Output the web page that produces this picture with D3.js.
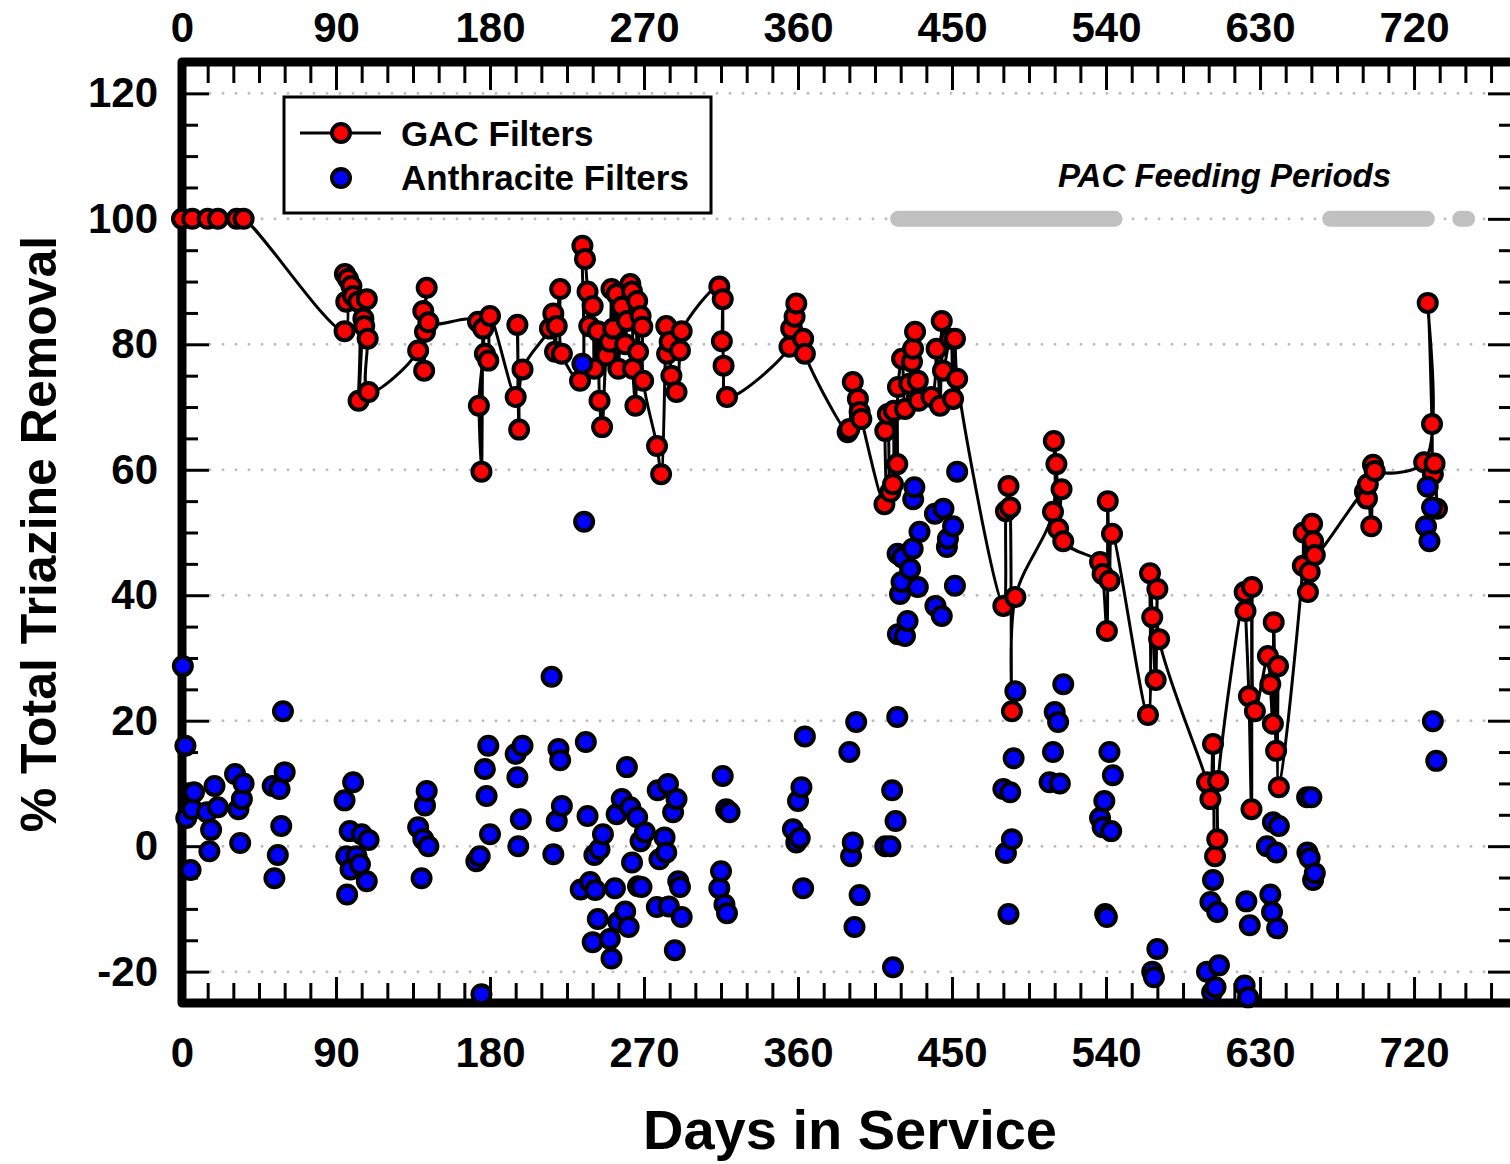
<!DOCTYPE html>
<html>
<head>
<meta charset="utf-8">
<script src="https://cdn.jsdelivr.net/npm/d3@7"></script>
<style>
  body { margin: 0; background: #fff; }
  svg { display: block; font-family: "Liberation Sans", Arial, sans-serif; font-weight: bold; }
</style>
</head>
<body>
<div id="chart"></div>
<script>
// GAC-Filter (mit Linie)
const gacDays = [0, 6, 15, 21, 32, 36,
  95, 95.2, 96, 97, 99, 100, 103, 103.2, 106, 106.5, 108, 108.5, 109,
  138, 141, 141.5, 142, 143, 144,
  173, 173.5, 175, 176, 177, 179, 180,
  195, 196, 197, 199,
  215, 217, 218, 219, 221, 222,
  232.6, 234, 235.5, 237, 238, 240, 241, 243, 244, 245.5, 248, 250, 251, 252, 254, 255, 257, 259, 260,
  262, 263, 263.5, 265, 266, 266.5, 268, 269, 269.5, 277.6, 280, 283, 283.5, 285, 286, 289, 291, 292,
  314, 315.5, 316, 316.5, 318.5,
  355, 356, 358, 359, 363, 364,
  389, 390, 392, 395, 396, 397,
  410.5, 411, 412.5, 414, 415.5, 416, 418, 418.4, 420.8, 422.5, 425, 426.6, 427.2, 428.4, 430, 430.5,
  438, 441, 443, 444, 444.7, 449, 450.6, 451.7, 453,
  480, 481.5, 483, 484, 485, 487,
  509, 509.5, 511, 512, 514, 515,
  536.5, 538, 540.5, 541, 542, 543.5,
  564.5, 565.7, 567, 569, 570, 571,
  599, 601, 602.5, 603.7, 605, 605.5,
  621, 621.5, 623.5, 625, 625.3, 627,
  634.6, 636, 637.5, 638, 639.4, 640.5, 641,
  655, 655.5, 658, 659, 660.4, 661, 662,
  691.3, 692.5, 693, 695, 696, 697,
  725.9, 728, 730.5, 731, 732, 733.4];
const gacRemoval = [100, 100, 100, 100, 100, 100,
  82.1, 91.2, 86.8, 90.4, 89.3, 87.7, 86.8, 71, 84.1, 82.9, 87.2, 80.9, 72.4,
  79, 85.3, 75.8, 82, 89, 83.5,
  83.6, 70.2, 59.7, 82.5, 78.5, 77.4, 84.5,
  71.6, 83.1, 66.4, 76,
  82.5, 84.9, 78.8, 82.9, 88.8, 78.5,
  74.2, 95.7, 93.6, 88.4, 82.9, 86.1, 76.1, 82.1, 71, 66.8, 78.2, 80.4, 88.8, 82.5, 88, 76.1, 86, 80, 83.7,
  89.6, 88.4, 76.1, 70.2, 86.9, 78.8, 84.5, 82.8, 74.2, 63.8, 59.3, 82.9, 78.5, 80.4, 75, 72.4, 79, 82.1,
  89.2, 80.5, 87.2, 76.6, 71.6,
  79.6, 82.5, 84.4, 86.5, 80.9, 78.5,
  66, 66.5, 74, 71.3, 69.2, 68.1,
  54.5, 66.2, 68.9, 56.5, 57.7, 69.4, 60.9, 73.2, 77.7, 69.7, 73.7, 77.2, 79.3, 82, 74.2, 71,
  71.6, 79.3, 70.2, 83.7, 75.8, 80.9, 71.3, 80.9, 74.5,
  38.3, 53.4, 57.4, 54, 21.5, 39.7,
  53.3, 64.6, 60.9, 50.6, 56.9, 48.6,
  45.3, 43.4, 34.3, 55, 42.3, 49.8,
  20.9, 43.5, 36.5, 26.5, 41, 33,
  10.2, 7.5, 16.3, -1.6, 1.1, 10.4,
  40.5, 37.5, 23.9, 5.9, 41.3, 21.5,
  30.3, 25.8, 19.5, 35.7, 15.2, 28.7, 9.4,
  44.7, 50, 40.5, 43.7, 51.4, 48.6, 46.4,
  56.5, 55.4, 57.7, 51, 60.8, 59.8,
  61.2, 86.6, 67.3, 59.3, 61, 53.8];

// Anthrazit-Filter (nur Punkte)
const anthDays = [0.5, 2, 2.5, 5, 6, 7, 14.6, 16, 17, 19, 21, 31, 33, 34, 35, 36,
  53, 54, 56, 57, 58, 59, 60,
  95, 96, 96.5, 98, 98.5, 100, 102, 104, 105, 108, 109,
  138, 140, 141, 142, 143, 144,
  172, 174, 175, 177, 178, 179, 180,
  195, 196, 196.5, 198, 199,
  216, 217, 219, 220, 221, 222,
  233, 234, 235, 236, 237, 238.5, 240, 241, 241.5, 243, 244, 246, 250, 251, 253, 254, 255, 257, 259, 260,
  261, 262, 263, 266, 266.5, 268, 268.5, 270.5, 277.5, 278, 279, 282, 283, 284, 284.5, 287, 288, 289, 290, 291, 292,
  314, 315, 316, 317, 318, 318.5, 320,
  357, 359, 360, 361, 362, 363, 364,
  390, 391, 392, 393, 394, 396,
  411, 414, 415, 415.5, 417, 418, 418.2, 418.4, 419.6, 420.5, 421, 422.5, 424, 425.5, 427, 427.3, 428, 430, 431,
  440, 440.3, 444, 445, 447, 447.6, 450.6, 451.7, 453,
  480, 481.5, 483, 484, 485, 486, 487,
  507, 509, 510, 512, 513, 515,
  536.5, 538, 539, 539.5, 540.5, 542, 543, 544,
  567, 568, 570,
  599, 601, 602, 602.5, 604, 605, 606,
  621, 622, 623, 624,
  634, 636, 637, 637.5, 639.5, 640, 641,
  657.5, 657.7, 659, 660, 661, 662,
  727, 728, 729, 730.5, 731, 733];
const anthRemoval = [28.7, 16, 4.5, -3.8, 5.9, 8.6, 5.4, -0.8, 2.6, 9.6, 6.2, 11.5, 5.9, 0.5, 7.5, 10,
  9.6, -5.1, -1.4, 9.1, 3.2, 21.5, 11.8,
  7.3, -1.6, -7.7, 2.4, -3.7, 10.2, -1.6, -2.9, 1.9, -5.6, 1,
  3, -5.1, 1.1, 6.5, 8.8, 0,
  -2.4, -1.6, -23.6, 12.3, 8, 16, 1.9,
  14.7, 11, 0, 4.3, 16,
  27, -1.3, 4, 15.5, 13.7, 6.4,
  -6.9, 76.9, 51.7, 16.6, 4.8, -5.7, -15.3, -1.4, -7, -11.6, -0.5, 1.9, -14.8, -17.9, -6.7, 5.1, -12.1, 7.5, -10.4, 12.6,
  -12.9, 6.2, -2.6, 4.6, -6.4, 0.8, -6.5, 2.2, -9.7, 8.9, -2.1, 1.4, -1, 9.9, -9.6, 5.4, -16.6, 7.5, -5.6, -6.5, -11.3,
  -6.7, -4, 11.2, -9.3, 5.9, -10.7, 5.4,
  2.7, 0.6, 7.2, 1.3, 9.4, -6.7, 17.5,
  15, -1.6, 0.6, -12.9, 19.8, -7.8,
  0, 0, 8.9, -19.3, 4, 20.6, 46.6, 33.8, 40.2, 42.1, 46, 33.5, 35.9, 44.2, 47.4, 55.3, 57.2, 41.3, 50.1,
  53, 38.3, 36.7, 53.8, 47.7, 49, 51, 41.5, 59.7,
  9.1, -1.1, -10.8, 8.6, 1.1, 14, 24.7,
  10.2, 15, 21.4, 19.8, 10, 25.8,
  4.5, 3, 7.2, -10.8, -11.3, 15, 2.4, 11.3,
  -20, -20.9, -16.4,
  -20, -8.9, -23.3, -5.4, -22.5, -10.5, -19,
  -22.2, -8.8, -24.1, -12.6,
  0, -7.7, -10.5, 3.8, -1, -13.1, 3.2,
  7.8, -1, -1.9, 7.8, -5.4, -4.3,
  51, 57.3, 48.6, 54, 19.9, 13.6];

// PAC-Dosierzeiträume (Tage)
const pacPeriods = [[418.5, 545], [671, 727.5], [747, 751]];

const xTicks = [0, 90, 180, 270, 360, 450, 540, 630, 720];
const yTicks = [-20, 0, 20, 40, 60, 80, 100, 120];

const width = 1510, height = 1164;
const mLeft = 182, mRight = 1515, mTop = 62, mBottom = 1003;
const dotR = 9, dotStroke = 4;

const svg = d3.select("#chart").append("svg")
  .attr("width", width)
  .attr("height", height);

const x = d3.scaleLinear().domain([0, 779]).range([mLeft, mRight]);
const y = d3.scaleLinear().domain([-25, 125]).range([mBottom, mTop]);

const xMinor = d3.range(0, 780, 15).filter(d => d % 90 !== 0);
const yMinor = d3.range(-25, 126, 5).filter(d => d % 20 !== 0);

// Gitterlinien (gepunktet)
svg.append("g").selectAll("line")
  .data(yTicks)
  .enter().append("line")
  .attr("x1", mLeft + 28).attr("x2", mRight - 28)
  .attr("y1", d => y(d)).attr("y2", d => y(d))
  .style("stroke", "#bdbdbd")
  .style("stroke-width", 3)
  .style("stroke-linecap", "round")
  .style("stroke-dasharray", "0,13");

// PAC Balken
svg.append("g").selectAll("line")
  .data(pacPeriods)
  .enter().append("line")
  .attr("x1", d => x(d[0])).attr("x2", d => x(d[1]))
  .attr("y1", y(100)).attr("y2", y(100))
  .style("stroke", "#c0c0c0")
  .style("stroke-width", 16)
  .style("stroke-linecap", "round");

svg.append("text")
  .attr("x", 1058).attr("y", 187)
  .style("font-size", "33px")
  .style("font-style", "italic")
  .text("PAC Feeding Periods");

// Achsen
function styleAxis(g) {
  g.select(".domain").remove();
  g.selectAll(".tick line").style("stroke", "#000").style("stroke-width", 3);
  g.selectAll(".tick text").style("font-size", "42px").style("font-family", "Liberation Sans, Arial, sans-serif")
    .style("font-weight", "bold").style("fill", "#000");
}
const fmt = d => String(d);

svg.append("g").attr("transform", `translate(0,${mBottom})`)
  .call(d3.axisBottom(x).tickValues(xMinor).tickSize(-20).tickFormat(""))
  .call(styleAxis);
svg.append("g").attr("transform", `translate(0,${mBottom})`)
  .call(d3.axisBottom(x).tickValues(xTicks).tickSize(-26).tickPadding(34).tickFormat(fmt))
  .call(styleAxis);
svg.append("g").attr("transform", `translate(0,${mTop})`)
  .call(d3.axisTop(x).tickValues(xMinor).tickSize(-21).tickFormat(""))
  .call(styleAxis);
svg.append("g").attr("transform", `translate(0,${mTop})`)
  .call(d3.axisTop(x).tickValues(xTicks).tickSize(-28).tickPadding(20).tickFormat(fmt))
  .call(styleAxis);
svg.append("g").attr("transform", `translate(${mLeft},0)`)
  .call(d3.axisLeft(y).tickValues(yMinor).tickSize(-16).tickFormat(""))
  .call(styleAxis);
svg.append("g").attr("transform", `translate(${mLeft},0)`)
  .call(d3.axisLeft(y).tickValues(yTicks).tickSize(-27).tickPadding(24).tickFormat(fmt))
  .call(styleAxis);
svg.append("g").attr("transform", `translate(${mRight},0)`)
  .call(d3.axisRight(y).tickValues(yMinor).tickSize(-16).tickFormat(""))
  .call(styleAxis);
svg.append("g").attr("transform", `translate(${mRight},0)`)
  .call(d3.axisRight(y).tickValues(yTicks).tickSize(-27).tickFormat(""))
  .call(styleAxis);

// Rahmen
svg.append("rect")
  .attr("x", mLeft).attr("y", mTop)
  .attr("width", mRight - mLeft).attr("height", mBottom - mTop)
  .style("fill", "none")
  .style("stroke", "#000")
  .style("stroke-width", 9)
  .style("stroke-linejoin", "round");

// Achsentitel
svg.append("text")
  .attr("x", 850).attr("y", 1149)
  .attr("text-anchor", "middle")
  .style("font-size", "56px")
  .text("Days in Service");

svg.append("text")
  .attr("transform", "translate(56,534) rotate(-90)")
  .attr("text-anchor", "middle")
  .style("font-size", "50px")
  .text("% Total Triazine Removal");

// GAC Linie
const gac = gacDays.map((d, i) => ({ day: d, val: gacRemoval[i] }));
const anth = anthDays.map((d, i) => ({ day: d, val: anthRemoval[i] }));

const line = d3.line()
  .x(d => x(d.day))
  .y(d => y(d.val))
  .curve(d3.curveCatmullRom.alpha(0.5));

svg.append("path")
  .datum(gac)
  .attr("d", line)
  .style("fill", "none")
  .style("stroke", "#000")
  .style("stroke-width", 3);

svg.append("g").selectAll("circle")
  .data(gac)
  .enter().append("circle")
  .attr("cx", d => x(d.day))
  .attr("cy", d => y(d.val))
  .attr("r", dotR)
  .style("fill", "#ff0000")
  .style("stroke", "#000")
  .style("stroke-width", dotStroke);

svg.append("g").selectAll("circle")
  .data(anth)
  .enter().append("circle")
  .attr("cx", d => x(d.day))
  .attr("cy", d => y(d.val))
  .attr("r", dotR)
  .style("fill", "#0000ff")
  .style("stroke", "#000")
  .style("stroke-width", dotStroke);

// Legende
const legend = svg.append("g");
legend.append("rect")
  .attr("x", 284).attr("y", 97)
  .attr("width", 427).attr("height", 116)
  .style("fill", "#fff")
  .style("stroke", "#000")
  .style("stroke-width", 3);
legend.append("line")
  .attr("x1", 300).attr("x2", 381)
  .attr("y1", 133).attr("y2", 133)
  .style("stroke", "#000").style("stroke-width", 3);
legend.append("circle")
  .attr("cx", 341).attr("cy", 133).attr("r", dotR)
  .style("fill", "#ff0000").style("stroke", "#000").style("stroke-width", dotStroke);
legend.append("circle")
  .attr("cx", 341).attr("cy", 178).attr("r", dotR)
  .style("fill", "#0000ff").style("stroke", "#000").style("stroke-width", dotStroke);
legend.append("text")
  .attr("x", 401).attr("y", 146)
  .style("font-size", "35px")
  .text("GAC Filters");
legend.append("text")
  .attr("x", 401).attr("y", 190)
  .style("font-size", "35px")
  .text("Anthracite Filters");
</script>
</body>
</html>
